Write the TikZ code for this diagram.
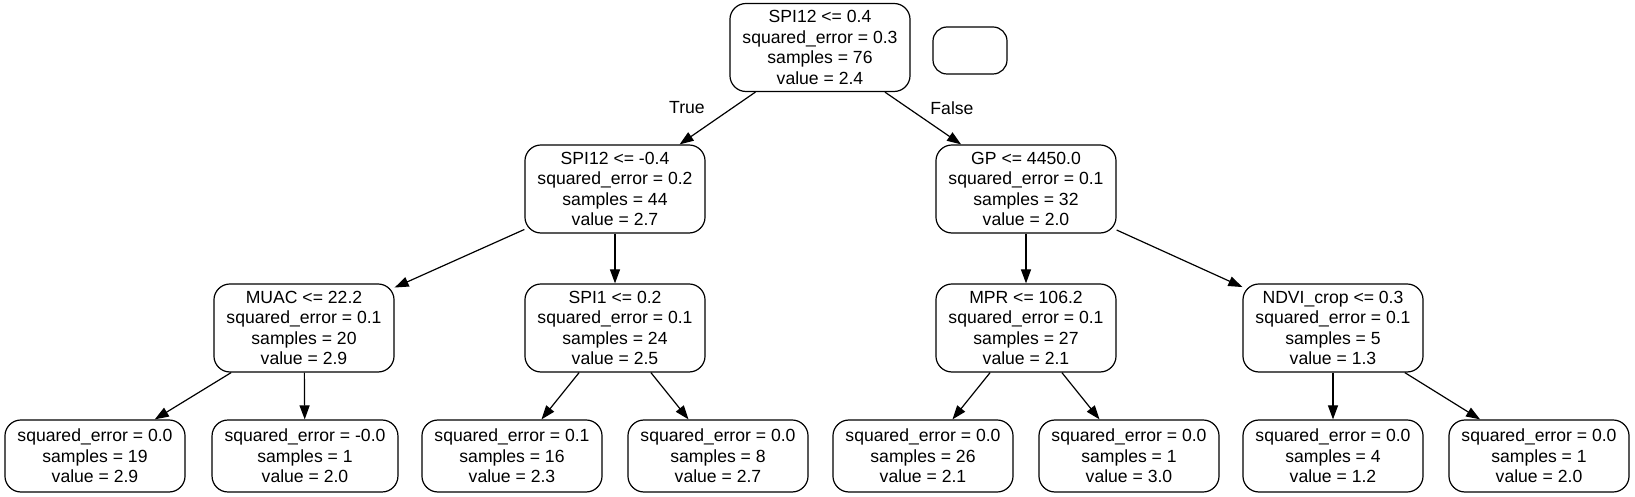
\documentclass[tikz,border=0pt]{standalone}
\usepackage{fontspec}
\setmainfont{Liberation Sans}
\usetikzlibrary{arrows.meta, positioning}

\begin{document}
\begin{tikzpicture}[
    x=0.5pt, y=-0.5pt,
    every node/.style={font=\fontsize{8.8pt}{10.25pt}\selectfont, align=center},
    split/.style={draw, line width=0.6pt, rounded corners=8pt, minimum width=90pt, minimum height=44pt, inner xsep=6.25pt, inner ysep=1pt},
    leaf/.style={split, minimum height=36pt},
    arrow/.style={-{Triangle[length=7pt, width=5pt]}, line width=0.6pt}
]
\useasboundingbox (0,0) rectangle (1635,497);

% root and legend box
\node (root) [split] at (820,47.5) {SPI12 <= 0.4 \\ squared\_error = 0.3 \\ samples = 76 \\ value = 2.4};
\node (legend) [draw, line width=0.6pt, rounded corners=7pt, minimum width=37pt, minimum height=23.5pt] at (970,50.5) {};

% second level
\node (spiA) [split] at (615,189) {SPI12 <= -0.4 \\ squared\_error = 0.2 \\ samples = 44 \\ value = 2.7};
\node (gp) [split] at (1026,189) {GP <= 4450.0 \\ squared\_error = 0.1 \\ samples = 32 \\ value = 2.0};

% third level
\node (muac) [split] at (304,328) {MUAC <= 22.2 \\ squared\_error = 0.1 \\ samples = 20 \\ value = 2.9};
\node (spiB) [split] at (615,328) {SPI1 <= 0.2 \\ squared\_error = 0.1 \\ samples = 24 \\ value = 2.5};
\node (mpr) [split] at (1026,328) {MPR <= 106.2 \\ squared\_error = 0.1 \\ samples = 27 \\ value = 2.1};
\node (ndvi) [split] at (1333,328) {NDVI\_crop <= 0.3 \\ squared\_error = 0.1 \\ samples = 5 \\ value = 1.3};

% leaves
\node (leafA) [leaf] at (95,456) {squared\_error = 0.0 \\ samples = 19 \\ value = 2.9};
\node (leafB) [leaf] at (305,456) {squared\_error = -0.0 \\ samples = 1 \\ value = 2.0};
\node (leafC) [leaf] at (512,456) {squared\_error = 0.1 \\ samples = 16 \\ value = 2.3};
\node (leafD) [leaf] at (718,456) {squared\_error = 0.0 \\ samples = 8 \\ value = 2.7};
\node (leafE) [leaf] at (923,456) {squared\_error = 0.0 \\ samples = 26 \\ value = 2.1};
\node (leafF) [leaf] at (1129,456) {squared\_error = 0.0 \\ samples = 1 \\ value = 3.0};
\node (leafG) [leaf] at (1333,456) {squared\_error = 0.0 \\ samples = 4 \\ value = 1.2};
\node (leafH) [leaf] at (1539,456) {squared\_error = 0.0 \\ samples = 1 \\ value = 2.0};

% edge labels
\node (truelbl) at (687,108) {True};
\node (falselbl) at (952,108) {False};

\draw[arrow] (root) -- (spiA);
\draw[arrow] (root) -- (gp);
\draw[arrow] (spiA) -- (muac);
\draw[arrow] (spiA) -- (spiB);
\draw[arrow] (gp) -- (mpr);
\draw[arrow] (gp) -- (ndvi);
\draw[arrow] (muac) -- (leafA);
\draw[arrow] (muac) -- (leafB);
\draw[arrow] (spiB) -- (leafC);
\draw[arrow] (spiB) -- (leafD);
\draw[arrow] (mpr) -- (leafE);
\draw[arrow] (mpr) -- (leafF);
\draw[arrow] (ndvi) -- (leafG);
\draw[arrow] (ndvi) -- (leafH);
\end{tikzpicture}
\end{document}
